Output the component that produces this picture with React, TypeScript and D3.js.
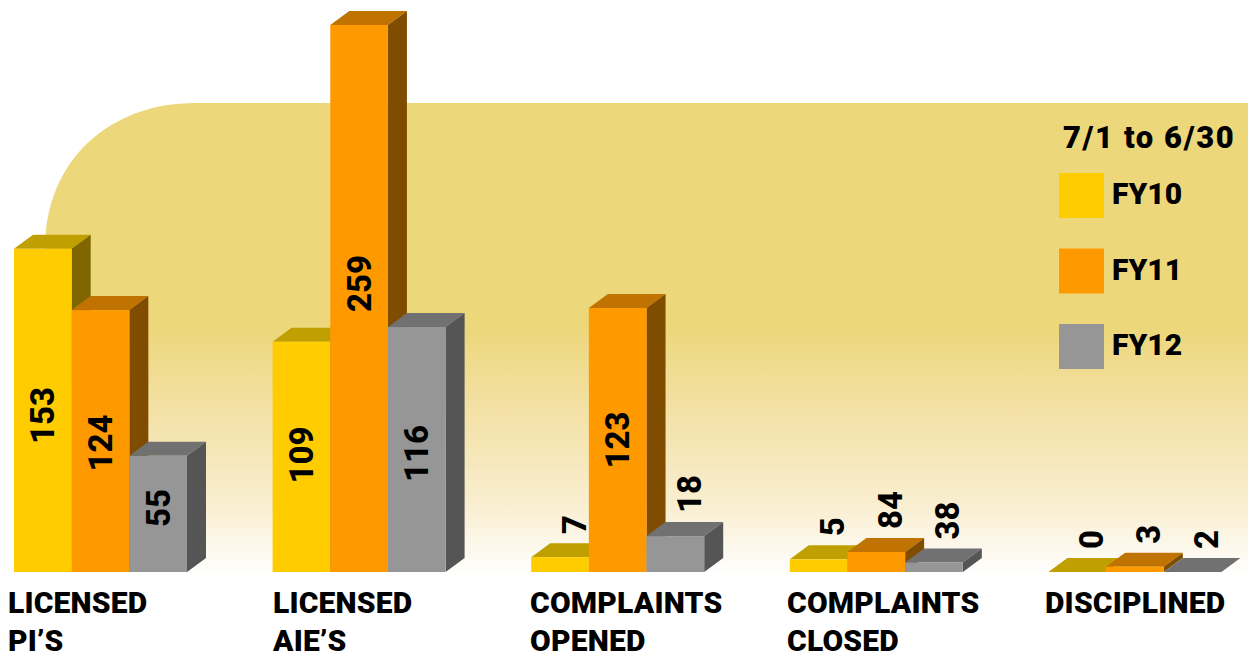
import React from 'react';
import * as d3 from 'd3';

const categories = [['LICENSED', 'PI’S'], ['LICENSED', 'AIE’S'], ['COMPLAINTS', 'OPENED'], ['COMPLAINTS', 'CLOSED'], ['DISCIPLINED']];
const seriesNames = ['FY10', 'FY11', 'FY12'];
const legendTitle = '7/1 to 6/30';

// bar heights as drawn in the picture (the small groups don't follow their printed labels)
const fy10 = [153, 109, 7, 6, 0];
const fy11 = [124, 259, 125, 9.5, 2.5];
const fy12 = [55, 116, 17, 4.5, 0];

const fy10Labels = ['153', '109', '7', '5', '0'];
const fy11Labels = ['124', '259', '123', '84', '3'];
const fy12Labels = ['55', '116', '18', '38', '2'];

const FONT = 'Roboto, "Liberation Sans", sans-serif';
const W = 1248;
const H = 654;
const BASE = 572;
const DX = 19;
const DY = 14;
const categoryLabelX = [8, 273, 530, 787, 1045];
// labels that sit off their bar's centre in the original
const labelNudge: Record<string, number> = { '153': 5, '124': 2, '55': -6, '259': -15, '116': 4, '109': -2 };
const colors = [
  { front: '#ffcc00', top: '#c0a000', side: '#806600' },
  { front: '#ff9900', top: '#c07300', side: '#804d00' },
  { front: '#969696', top: '#717171', side: '#555555' },
];

const series = [fy10, fy11, fy12];
const labels = [fy10Labels, fy11Labels, fy12Labels];

const x0 = d3.scaleBand<number>().domain(d3.range(5)).range([14, 14 + 258.6 * 5]);
const x1 = d3.scaleBand<number>().domain(d3.range(3)).range([0, 173]);
const y = d3.scaleLinear().domain([0, 259]).range([BASE, 25]);

const legendY = d3.scaleBand<string>().domain(seriesNames).range([173, 173 + 75.5 * 3]);

const backdrop = d3.path();
backdrop.moveTo(45, 576);
backdrop.lineTo(45, 248);
backdrop.bezierCurveTo(45, 160, 110, 103, 195, 103);
backdrop.lineTo(W, 103);
backdrop.lineTo(W, 576);
backdrop.closePath();

export default function App() {
  return (
    <svg width={W} height={H} style={{ position: 'absolute', left: 0, top: 0, display: 'block' }} fontFamily={FONT}>
      <defs>
        <linearGradient id="bg" x1="0" y1="103" x2="0" y2="576" gradientUnits="userSpaceOnUse">
          <stop offset="0" stopColor="#edd77b" />
          <stop offset="0.48" stopColor="#edd77b" />
          <stop offset="0.62" stopColor="#f2df9f" />
          <stop offset="0.85" stopColor="#f9eed0" />
          <stop offset="1" stopColor="#ffffff" />
        </linearGradient>
      </defs>
      <rect width={W} height={H} fill="#fff" />
      <path d={backdrop.toString()} fill="url(#bg)" />

      {categories.map((lines, c) => (
        <g key={c}>
          {series.map((vals, s) => {
            const bx = x0(c)! + x1(s)!;
            const bw = x1.bandwidth();
            const ty = y(vals[c]);
            const col = colors[s];
            const tall = BASE - ty > 60;
            const label = labels[s][c];
            const lx = tall ? bx + bw / 2 : bx + bw / 2 + 14;
            const ly = tall ? (ty + BASE) / 2 + (labelNudge[label] ?? 0) : ty - DY - 9;
            return (
              <g key={s}>
                <path d={`M${bx},${ty}L${bx + DX},${ty - DY}H${bx + bw + DX}L${bx + bw},${ty}Z`} fill={col.top} />
                <path d={`M${bx + bw},${ty}L${bx + bw + DX},${ty - DY}V${BASE - DY}L${bx + bw},${BASE}Z`} fill={col.side} />
                <rect x={bx} y={ty} width={bw} height={BASE - ty} fill={col.front} />
                <text
                  transform={`translate(${lx},${ly}) rotate(-90)`}
                  textAnchor={tall ? 'middle' : 'start'}
                  dominantBaseline="central"
                  fontSize={33}
                  fontWeight={800}
                  fill="#000"
                >
                  {label}
                </text>
              </g>
            );
          })}
        </g>
      ))}

      {categories.map((lines, c) => (
        <text key={c} fontSize={30} fontWeight={900} letterSpacing={0.2} fill="#000">
          {lines.map((t, i) => (
            <tspan key={i} x={categoryLabelX[c]} y={613 + i * 38}>{t}</tspan>
          ))}
        </text>
      ))}

      <text x={1063} y={148} fontSize={31} fontWeight={900} letterSpacing={1.6} fill="#000">{legendTitle}</text>
      {seriesNames.map((name, i) => (
        <g key={name}>
          <rect x={1059} y={legendY(name)} width={45} height={45} fill={colors[i].front} />
          <text x={1112} y={legendY(name)! + 31} fontSize={30} fontWeight={900} fill="#000">{name}</text>
        </g>
      ))}
    </svg>
  );
}
